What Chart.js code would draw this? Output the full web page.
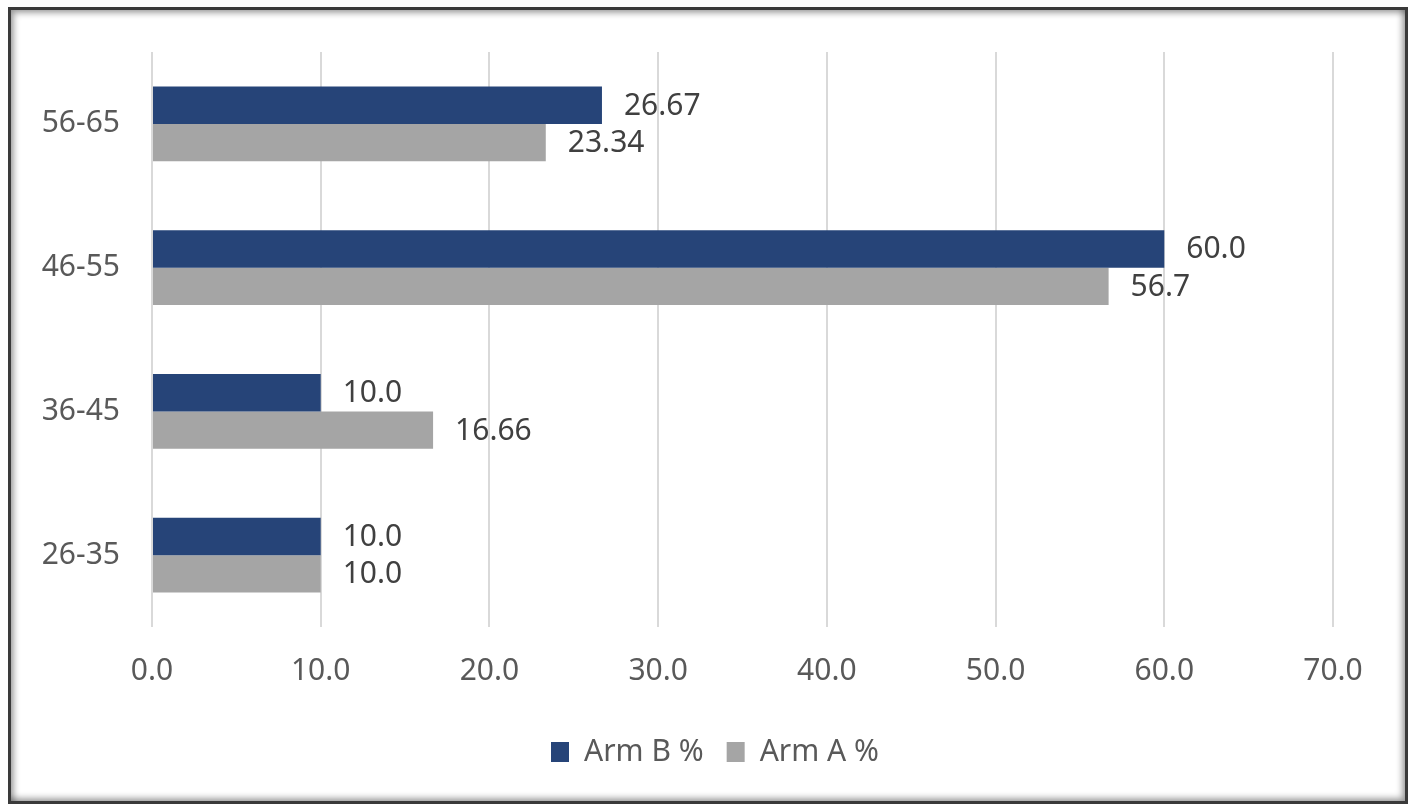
<!DOCTYPE html>
<html>
<head>
<meta charset="utf-8">
<script src="https://cdn.jsdelivr.net/npm/chart.js@4/dist/chart.umd.min.js"></script>
<style>
  html, body { margin: 0; padding: 0; background: #ffffff; }
  #frame {
    position: absolute; left: 8px; top: 7px;
    width: 1394px; height: 791px;
    border: 3px solid #3a3a3a;
    box-shadow: inset 3px 3px 6px rgba(0,0,0,0.35), inset -3px -3px 6px rgba(0,0,0,0.35);
    background: #fff;
  }
  #c { display: block; }
</style>
</head>
<body>
<div id="frame"><canvas id="c" width="1394" height="791"></canvas></div>
<script>
const categories = ['56-65', '46-55', '36-45', '26-35'];
const armB = [26.67, 60.0, 10.0, 10.0];
const armA = [23.34, 56.7, 16.66, 10.0];
const seriesNames = ['Arm B %', 'Arm A %'];
const xTicks = [0, 10, 20, 30, 40, 50, 60, 70];

const FONT = "'Noto Sans', 'Open Sans', sans-serif";

function fmt(v) {
  let s = String(v);
  if (s.indexOf('.') < 0) s += '.0';
  return s;
}

const valueLabels = {
  id: 'valueLabels',
  afterDatasetsDraw(chart) {
    const ctx = chart.ctx;
    ctx.save();
    ctx.font = '30px ' + FONT;
    ctx.fillStyle = '#404040';
    ctx.textAlign = 'left';
    ctx.textBaseline = 'middle';
    chart.data.datasets.forEach((ds, di) => {
      const meta = chart.getDatasetMeta(di);
      meta.data.forEach((bar, i) => {
        ctx.fillText(fmt(ds.data[i]), bar.x + 22, bar.y + 1);
      });
    });
    ctx.restore();
  }
};

new Chart(document.getElementById('c'), {
  type: 'bar',
  data: {
    labels: categories,
    datasets: [
      { label: seriesNames[0], data: armB, backgroundColor: '#264478', borderWidth: 0 },
      { label: seriesNames[1], data: armA, backgroundColor: '#A5A5A5', borderWidth: 0 }
    ]
  },
  options: {
    indexAxis: 'y',
    responsive: false,
    animation: false,
    devicePixelRatio: 1,
    categoryPercentage: 0.52,
    barPercentage: 1.0,
    layout: { padding: { left: 14, right: 0, top: 42, bottom: 24 } },
    scales: {
      x: {
        min: 0, max: 70,
        afterBuildTicks(scale) { scale.ticks = xTicks.map(v => ({ value: v })); },
        grid: { color: '#D9D9D9', lineWidth: 2, drawTicks: false },
        border: { display: false },
        ticks: {
          color: '#595959',
          font: { family: FONT, size: 30 },
          padding: 26,
          callback: (v) => Number(v).toFixed(1)
        },
        afterFit(scale) { scale.height = 87; scale.paddingLeft = 0; scale.paddingRight = 0; }
      },
      y: {
        grid: { display: false, drawTicks: false },
        border: { display: false },
        ticks: {
          color: '#595959',
          font: { family: FONT, size: 30 },
          padding: 32
        },
        afterFit(scale) { scale.width = 127; scale.paddingTop = 0; scale.paddingBottom = 0; }
      },
      yRight: {
        position: 'right',
        display: true,
        grid: { display: false, drawTicks: false },
        border: { display: false },
        ticks: { display: false },
        afterFit(scale) { scale.width = 72; scale.paddingTop = 0; scale.paddingBottom = 0; }
      }
    },
    plugins: {
      legend: {
        position: 'bottom',
        labels: {
          color: '#595959',
          font: { family: FONT, size: 30 },
          boxWidth: 18,
          boxHeight: 20,
          padding: 23
        }
      },
      tooltip: { enabled: false }
    }
  },
  plugins: [valueLabels]
});
</script>
</body>
</html>
